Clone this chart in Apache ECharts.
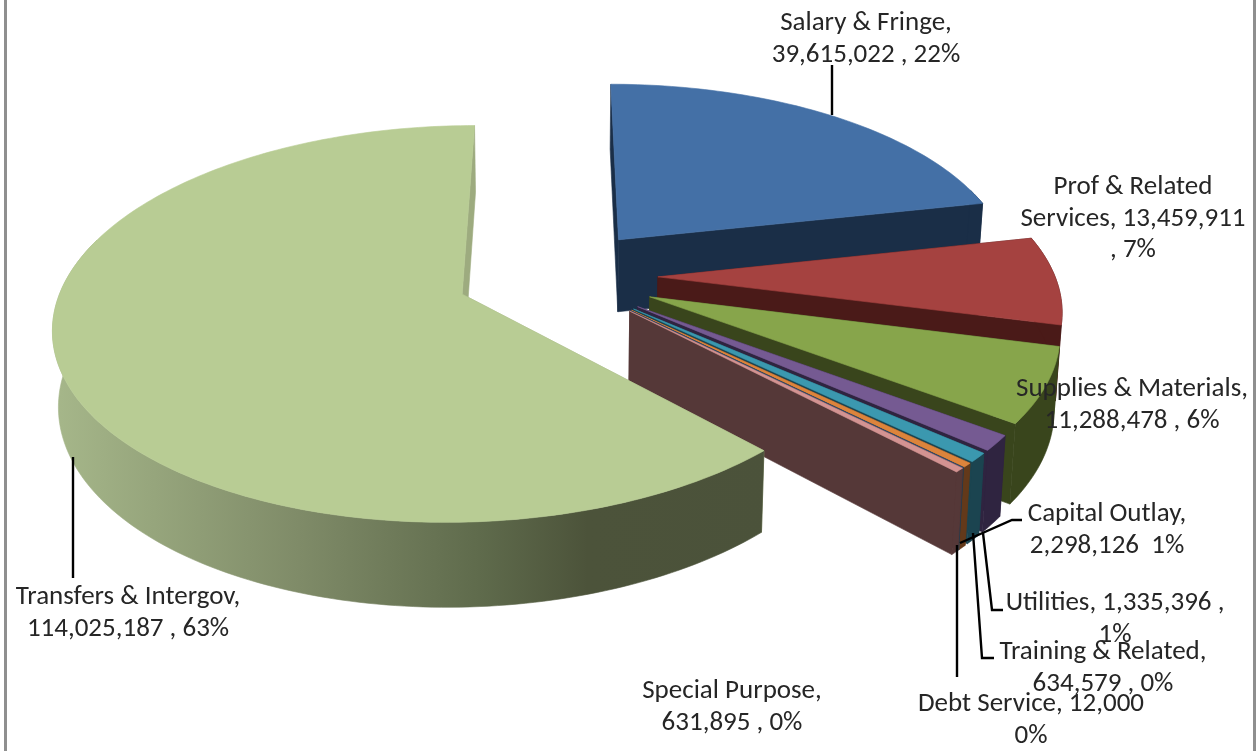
<!DOCTYPE html>
<html>
<head>
<meta charset="utf-8">
<title>Expenditures by category</title>
<style>html,body{margin:0;padding:0;background:#fff}#chart{width:1256px;height:751px}</style>
<script src="https://cdn.jsdelivr.net/npm/echarts@6/dist/echarts.min.js"></script>
</head>
<body>
<div id="chart"></div>
<script>
// Budget categories, clockwise from twelve o'clock.
const categories = ['Salary & Fringe', 'Prof & Related Services', 'Supplies & Materials', 'Capital Outlay', 'Utilities', 'Training & Related', 'Debt Service', 'Special Purpose', 'Transfers & Intergov'];
const amounts = [39615022, 13459911, 11288478, 2298126, 1335396, 634579, 12000, 631895, 114025187];
const labelTexts = [
  'Salary & Fringe,\n39,615,022 , 22%',
  'Prof & Related\nServices, 13,459,911\n, 7%',
  'Supplies & Materials,\n11,288,478 , 6%',
  'Capital Outlay,\n2,298,126  1%',
  'Utilities, 1,335,396 ,\n1%',
  'Training & Related,\n634,579 , 0%',
  'Debt Service, 12,000\n0%',
  'Special Purpose,\n631,895 , 0%',
  'Transfers & Intergov,\n114,025,187 , 63%'
];

// Slice colours: top face, side wall.
const topColors = ['#4470a6', '#a54240', '#87a54b', '#755a92', '#3b98af', '#dc843c', '#2c4d75', '#d39392', '#b8cc94'];
const wallColors = ['#1a2e47', '#4a1a18', '#39451c', '#2f2440', '#1b4450', '#63391a', '#2a3a4a', '#553838', null];

// Perspective camera for the tilted disc.
const cam = { cx: 557, y0: 276, a: 397, b: 188.5, p: 0.148, q: 0.012, depth: 74.5, explode: 0.254 };

// Label anchors and leader lines.
const labelCenters = [[866, 39], [1133, 219], [1132, 405], [1107, 530], [1115, 619], [1103, 668], [1031, 720], [732, 707], [128, 613]];
const leaders = [
  [[832, 115], [832, 65]],
  null,
  null,
  [[960, 543], [1012, 520], [1022, 520]],
  [[983, 533], [992, 610], [1003, 610]],
  [[973, 533], [982, 658], [994, 658]],
  [[957, 545], [957, 677]],
  null,
  [[73, 457], [73, 578]]
];

const total = amounts.reduce((s, v) => s + v, 0);

function project(u, v, z) {
  const s = 1 / (1 - cam.p * v);
  const sink = 1 + cam.q * z;
  return [
    cam.cx + cam.a * u * s / sink,
    cam.y0 + (cam.b * v * s + cam.depth * z * s) / sink
  ];
}

function sliceStart(index) {
  let before = 0;
  for (let i = 0; i < index; i++) before += amounts[i];
  return before / total * Math.PI * 2;
}

function renderSlice(params, api) {
  const i = params.dataIndex;
  const value = api.value(0);
  const start = sliceStart(i);
  const end = start + value / total * Math.PI * 2;
  const mid = (start + end) / 2;
  const ou = cam.explode * Math.sin(mid);
  const ov = -cam.explode * Math.cos(mid);
  const rim = [];
  const front = [];
  const steps = Math.max(2, Math.ceil((end - start) / 0.02));
  for (let k = 0; k <= steps; k++) {
    const t = start + (end - start) * k / steps;
    const pt = [ou + Math.sin(t), ov - Math.cos(t)];
    rim.push(pt);
    // Only the part of the outer wall that faces the viewer gets painted.
    if (Math.cos(t) < 0.3) front.push(pt);
  }
  const first = rim[0];
  const last = rim[rim.length - 1];
  const wall = wallColors[i] || {
    type: 'linear', global: true, x: 54, y: 0, x2: 775, y2: 0,
    colorStops: [
      { offset: 0, color: '#a6b78a' },
      { offset: 0.34, color: '#7f8b68' },
      { offset: 0.59, color: '#5f6b4c' },
      { offset: 0.74, color: '#4c533a' },
      { offset: 1, color: '#4b523a' }
    ]
  };
  const flatWall = wallColors[i] || '#9dab7f';
  const poly = (pts, fill) => ({
    type: 'polygon',
    shape: { points: pts },
    style: { fill: fill, stroke: fill, lineWidth: 0.6 },
    silent: true
  });
  const radial = (p) => [
    project(ou, ov, 0), project(p[0], p[1], 0),
    project(p[0], p[1], 1), project(ou, ov, 1)
  ];
  const top = [project(ou, ov, 0)].concat(rim.map(p => project(p[0], p[1], 0)));
  const children = [poly(radial(first), flatWall), poly(radial(last), flatWall)];
  if (front.length > 1) {
    const outer = front.map(p => project(p[0], p[1], 0))
      .concat(front.slice().reverse().map(p => project(p[0], p[1], 1)));
    children.push(poly(outer, wall));
  }
  children.push(poly(top, topColors[i]));
  return { type: 'group', children };
}

function renderLabel(params) {
  const i = params.dataIndex;
  const children = [];
  if (leaders[i]) {
    children.push({
      type: 'polyline',
      shape: { points: leaders[i] },
      style: { stroke: '#000', lineWidth: 2.4, fill: null },
      silent: true
    });
  }
  children.push({
    type: 'text',
    x: labelCenters[i][0],
    y: labelCenters[i][1],
    style: {
      text: labelTexts[i],
      fill: '#262626',
      font: '27px Carlito, Calibri, Lato, sans-serif',
      lineHeight: 31.5,
      align: 'center',
      verticalAlign: 'middle'
    },
    silent: true
  });
  return { type: 'group', children };
}

const chart = echarts.init(document.getElementById('chart'), null, { renderer: 'canvas' });
chart.setOption({
  animation: false,
  backgroundColor: '#fff',
  tooltip: { show: false },
  graphic: [
    { type: 'rect', shape: { x: 4, y: 0, width: 3, height: 751 }, style: { fill: '#8f8f8f' }, silent: true },
    { type: 'rect', shape: { x: 1253, y: 0, width: 3, height: 751 }, style: { fill: '#8f8f8f' }, silent: true }
  ],
  series: [
    {
      type: 'custom',
      coordinateSystem: 'none',
      z: 2,
      clip: false,
      renderItem: renderSlice,
      data: amounts.map((v, i) => ({ name: categories[i], value: [v] }))
    },
    {
      type: 'custom',
      coordinateSystem: 'none',
      z: 3,
      clip: false,
      renderItem: renderLabel,
      data: categories.map((c, i) => ({ name: c, value: [amounts[i]] }))
    }
  ]
});
</script>
</body>
</html>
